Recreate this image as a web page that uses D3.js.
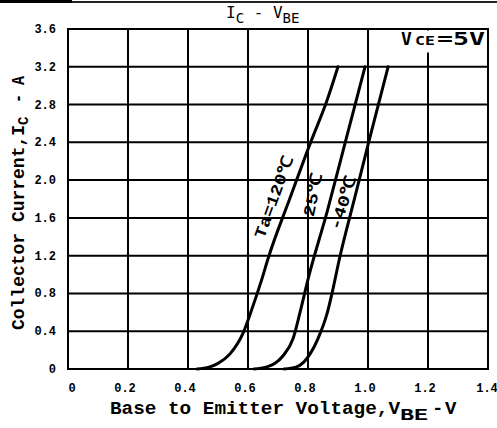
<!DOCTYPE html>
<html>
<head>
<meta charset="utf-8">
<title>IC - VBE</title>
<style>
body { margin: 0; background: #fff; }
svg { display: block; }
text { fill: #000; }
</style>
<script src="https://d3js.org/d3.v7.min.js"></script>
</head>
<body>
<div id="chart"></div>
<script>
// tick values
var xTicks = [0, 0.2, 0.4, 0.6, 0.8, 1.0, 1.2, 1.4];
var xTickLabels = ["0", "0.2", "0.4", "0.6", "0.8", "1.0", "1.2", "1.4"];
var yTicks = [0, 0.4, 0.8, 1.2, 1.6, 2.0, 2.4, 2.8, 3.2, 3.6];
var yTickLabels = ["0", "0.4", "0.8", "1.2", "1.6", "2.0", "2.4", "2.8", "3.2", "3.6"];

// curves (VBE in V, IC in A)
var vbe120 = [0.43, 0.47, 0.50, 0.54, 0.585, 0.607, 0.647, 0.667, 0.74, 0.81, 0.863, 0.90];
var ic120  = [0, 0.02, 0.06, 0.16, 0.39, 0.58, 0.96, 1.17, 1.81, 2.41, 2.84, 3.2];
var vbe25  = [0.62, 0.66, 0.69, 0.717, 0.75, 0.775, 0.80, 0.865, 0.925, 0.99];
var ic25   = [0, 0.02, 0.06, 0.14, 0.32, 0.62, 0.95, 1.68, 2.41, 3.2];
var vbeM40 = [0.72, 0.76, 0.785, 0.807, 0.833, 0.863, 0.88, 0.905, 0.953, 1.003, 1.067];
var icM40  = [0, 0.02, 0.07, 0.16, 0.32, 0.58, 0.80, 1.17, 1.78, 2.41, 3.2];

var W = 497, H = 428;
var plotLeft = 68, plotRight = 488, plotTop = 29, plotBottom = 369;
var mono = "'Liberation Mono', 'DejaVu Sans Mono', monospace";
var sansMono = "'DejaVu Sans Mono', 'Liberation Mono', monospace";

var svg = d3.select("#chart").append("svg")
    .attr("width", W)
    .attr("height", H);

var x = d3.scaleLinear().domain([0, 1.4]).range([plotLeft, plotRight]);
var y = d3.scaleLinear().domain([0, 3.6]).range([plotBottom, plotTop]);

// scan edge line at the very top
svg.append("rect").attr("x", 0).attr("y", 0).attr("width", 72).attr("height", 3).attr("fill", "#000");
svg.append("rect").attr("x", 72).attr("y", 1).attr("width", W - 72).attr("height", 2).attr("fill", "#222");

// grid
svg.append("g").selectAll("line")
    .data(xTicks)
    .enter().append("line")
    .attr("x1", function(d) { return x(d); })
    .attr("x2", function(d) { return x(d); })
    .attr("y1", y(3.6) - 1).attr("y2", y(0) + 1)
    .attr("stroke", "#000").attr("stroke-width", 2);

svg.append("g").selectAll("line")
    .data(yTicks)
    .enter().append("line")
    .attr("x1", x(0) - 1).attr("x2", x(1.4) + 1)
    .attr("y1", function(d) { return y(d); })
    .attr("y2", function(d) { return y(d); })
    .attr("stroke", "#000").attr("stroke-width", 2);

// tick labels
svg.append("g").selectAll("text")
    .data(yTicks)
    .enter().append("text")
    .attr("x", 56)
    .attr("y", function(d) { return y(d) + 4; })
    .attr("text-anchor", "end")
    .attr("font-family", mono)
    .attr("font-weight", "bold")
    .attr("font-size", 12)
    .text(function(d, i) { return yTickLabels[i]; });

svg.append("g").selectAll("text")
    .data(xTicks)
    .enter().append("text")
    .attr("x", function(d, i) { return i == 0 ? x(d) + 4 : (i == xTicks.length - 1 ? x(d) - 1 : x(d) - 3); })
    .attr("y", 392)
    .attr("text-anchor", "middle")
    .attr("font-family", mono)
    .attr("font-weight", "bold")
    .attr("font-size", 12)
    .text(function(d, i) { return xTickLabels[i]; });

// VCE box covering the grid
svg.append("rect")
    .attr("x", 398).attr("y", y(3.6) + 1.5)
    .attr("width", x(1.4) - 1 - 398).attr("height", 22)
    .attr("fill", "#fff");

var vce = svg.append("text")
    .attr("y", 45)
    .attr("font-family", sansMono)
    .attr("font-weight", "bold")
    .attr("font-size", 18);
vce.append("tspan").attr("x", 401).text("V");
vce.append("tspan").attr("x", 415).attr("font-size", 13).attr("textLength", 20).attr("lengthAdjust", "spacingAndGlyphs").text("CE");
vce.append("tspan").attr("x", 437).attr("textLength", 48).attr("lengthAdjust", "spacingAndGlyphs").text("=5V");

// curves
var line = d3.line()
    .x(function(d) { return x(d[0]); })
    .y(function(d) { return y(d[1]); })
    .curve(d3.curveMonotoneX);

var series = [d3.zip(vbe120, ic120), d3.zip(vbe25, ic25), d3.zip(vbeM40, icM40)];
svg.append("g").selectAll("path")
    .data(series)
    .enter().append("path")
    .attr("d", line)
    .attr("fill", "none")
    .attr("stroke", "#000")
    .attr("stroke-width", 3)
    .attr("stroke-linecap", "round");

// curve labels
var labels = [
    {t: "Ta=120\u2103", cx: 274, cy: 197, a: -70, len: 86},
    {t: "25\u2103", cx: 313, cy: 195, a: -78, len: 44},
    {t: "-40\u2103", cx: 343, cy: 203, a: -72, len: 56}
];
svg.append("g").selectAll("text")
    .data(labels)
    .enter().append("text")
    .attr("transform", function(d) { return "translate(" + d.cx + "," + d.cy + ") rotate(" + d.a + ")"; })
    .attr("text-anchor", "middle")
    .attr("dy", "0.32em")
    .attr("font-family", mono)
    .attr("font-weight", "bold")
    .attr("font-size", 16)
    .attr("textLength", function(d) { return d.len; })
    .attr("lengthAdjust", "spacingAndGlyphs")
    .text(function(d) { return d.t; });

// title
var title = svg.append("text")
    .attr("y", 18)
    .attr("font-family", sansMono)
    .attr("font-size", 16);
title.append("tspan").attr("x", 226).text("I");
title.append("tspan").attr("font-size", 14).attr("dy", 5).text("C");
title.append("tspan").attr("dy", -5).text(" - V");
title.append("tspan").attr("font-size", 14).attr("dy", 5).text("BE");

// x axis title
var xt = svg.append("text")
    .attr("y", 414)
    .attr("font-family", mono)
    .attr("font-weight", "bold")
    .attr("font-size", 19);
xt.append("tspan").attr("x", 110).attr("textLength", 290).attr("lengthAdjust", "spacingAndGlyphs").text("Base to Emitter Voltage,V");
xt.append("tspan").attr("x", 400).attr("dy", 6).attr("font-size", 16).attr("textLength", 28).attr("lengthAdjust", "spacingAndGlyphs").text("BE");
xt.append("tspan").attr("x", 432).attr("dy", -6).text("-");
xt.append("tspan").attr("x", 445).text("V");

// y axis title
var yt = svg.append("text")
    .attr("transform", "translate(24,330) rotate(-90)")
    .attr("font-family", mono)
    .attr("font-weight", "bold")
    .attr("font-size", 18);
yt.append("tspan").attr("x", 0).attr("textLength", 205).attr("lengthAdjust", "spacingAndGlyphs").text("Collector Current,I");
yt.append("tspan").attr("x", 205).attr("dy", 4).attr("font-size", 14).text("C");
yt.append("tspan").attr("x", 218).attr("dy", -4).attr("textLength", 36).attr("lengthAdjust", "spacingAndGlyphs").text(" - A");
</script>
</body>
</html>
